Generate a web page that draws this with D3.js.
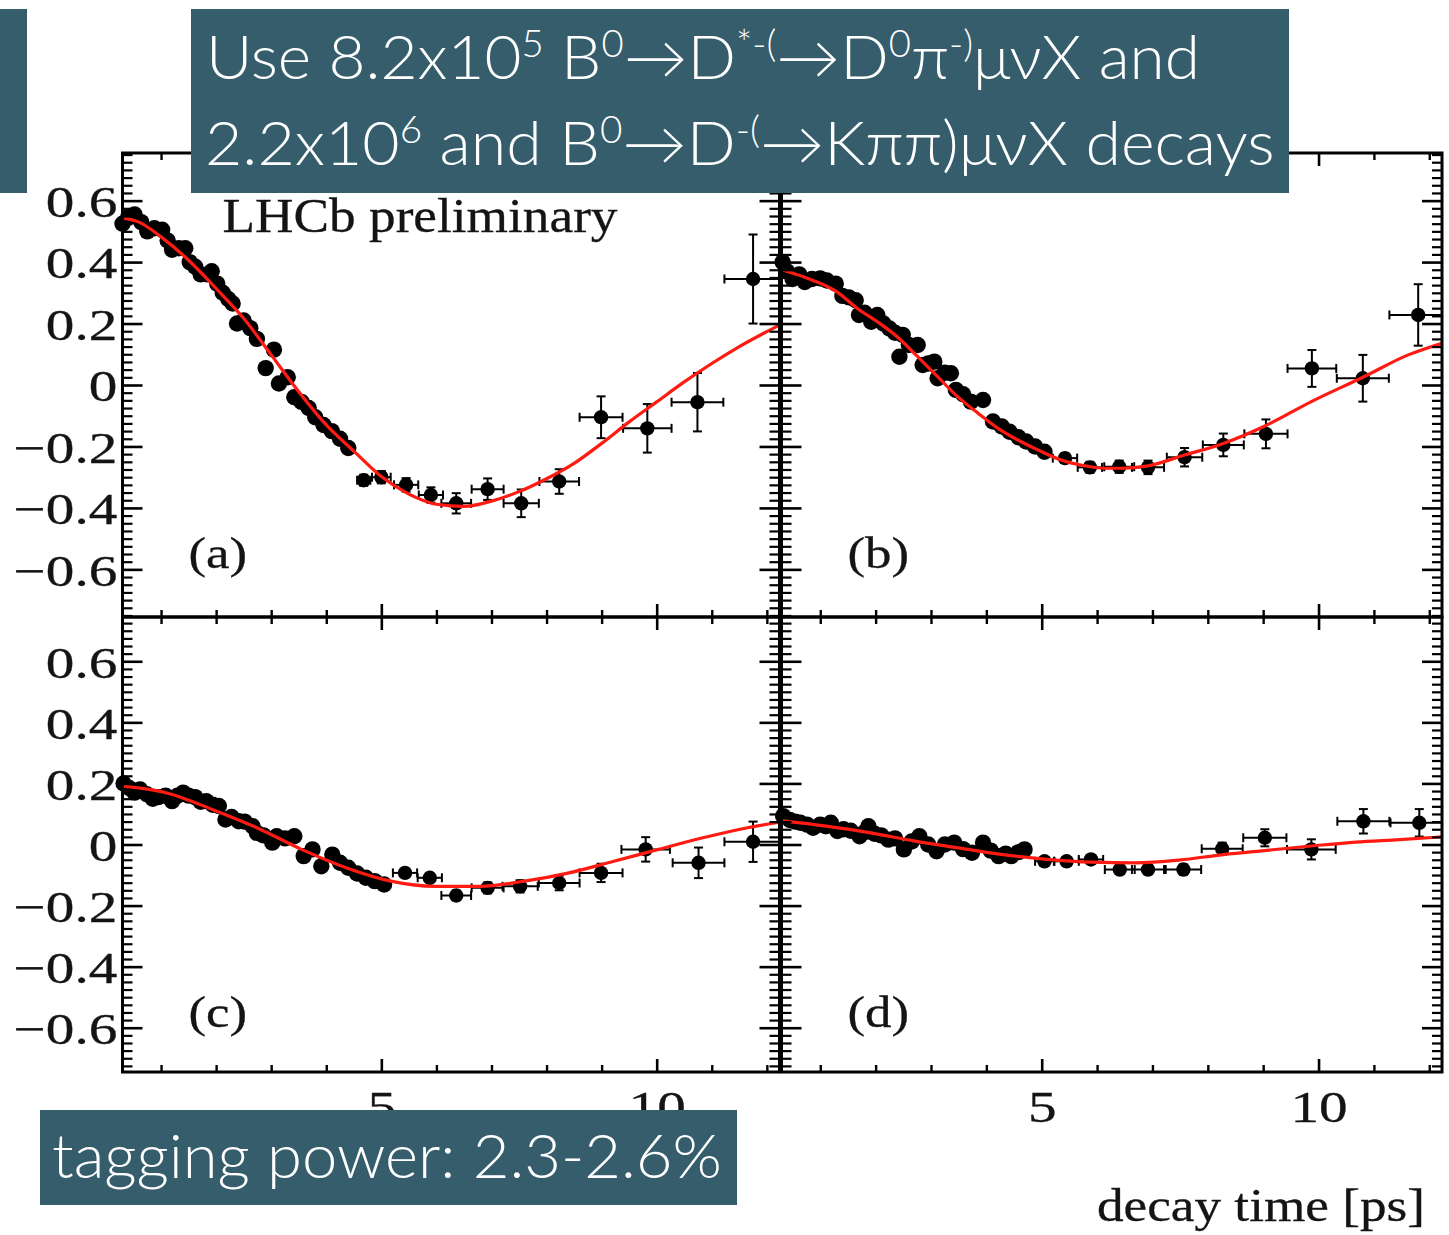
<!DOCTYPE html>
<html>
<head>
<meta charset="utf-8">
<script src="https://cdn.jsdelivr.net/npm/d3@7"></script>
<style>
  html, body { margin: 0; padding: 0; background: #fff; }
  svg { display: block; }
</style>
</head>
<body>
<script>
// ---- Measured asymmetry per decay-time bin, four tagging categories ----
// (a)
const tA = [0.30,0.40,0.52,0.64,0.75,0.88,1.02,1.12,1.20,1.32,1.44,1.52,1.62,1.72,1.84,1.92,2.02,2.12,2.22,2.30,2.38,2.50,2.62,2.74,2.90,3.05,3.14,3.30,3.42,3.55,3.68,3.80,3.95,4.10,4.25,4.40,4.68,5.00,5.45,5.90,6.36,6.93,7.54,8.23,8.99,9.83,10.74,11.75];
const vA = [0.525,0.545,0.555,0.530,0.500,0.510,0.505,0.470,0.440,0.445,0.445,0.400,0.385,0.360,0.360,0.370,0.330,0.300,0.280,0.265,0.200,0.210,0.185,0.150,0.055,0.115,0.005,0.025,-0.040,-0.055,-0.075,-0.105,-0.130,-0.150,-0.175,-0.205,-0.310,-0.300,-0.325,-0.358,-0.385,-0.339,-0.385,-0.314,-0.105,-0.141,-0.056,0.345];
// uncertainties of the wide late-time bins (aligned to the last entries)
const dtA = [0.12,0.17,0.22,0.22,0.27,0.29,0.32,0.36,0.39,0.44,0.47,0.52];
const dvA = [0.018,0.020,0.022,0.025,0.033,0.035,0.045,0.040,0.068,0.079,0.095,0.145];
const fitTA = [0.3,0.6,1.0,1.5,2.0,2.5,3.0,3.5,4.0,4.5,5.0,5.5,6.0,6.5,7.0,7.5,8.0,8.5,9.0,9.5,10.0,10.5,11.0,11.5,12.23];
const fitVA = [0.544,0.530,0.482,0.406,0.314,0.217,0.098,-0.022,-0.130,-0.215,-0.298,-0.355,-0.388,-0.395,-0.378,-0.347,-0.305,-0.255,-0.190,-0.120,-0.055,0.010,0.070,0.125,0.195];

// (b)
const tB = [0.32,0.40,0.50,0.62,0.72,0.85,1.00,1.12,1.28,1.40,1.52,1.64,1.70,1.80,1.92,2.03,2.14,2.25,2.35,2.43,2.49,2.60,2.76,2.85,2.95,3.06,3.12,3.25,3.36,3.45,3.58,3.72,3.94,4.12,4.28,4.42,4.58,4.72,4.88,5.05,5.42,5.87,6.40,6.92,7.58,8.28,9.05,9.88,10.80,11.80];
const vB = [0.400,0.370,0.345,0.360,0.335,0.345,0.347,0.340,0.330,0.290,0.285,0.276,0.228,0.235,0.206,0.228,0.200,0.184,0.170,0.092,0.163,0.130,0.130,0.065,0.070,0.076,0.022,0.040,0.038,-0.016,-0.030,-0.054,-0.049,-0.119,-0.135,-0.152,-0.170,-0.184,-0.200,-0.217,-0.238,-0.268,-0.266,-0.268,-0.235,-0.195,-0.159,0.054,0.022,0.228];
const dtB = [0.22,0.22,0.27,0.29,0.32,0.37,0.39,0.44,0.47,0.52];
const dvB = [0.015,0.018,0.020,0.022,0.030,0.037,0.047,0.060,0.076,0.100];
const fitTB = [0.3,0.7,1.0,1.3,1.67,2.03,2.39,2.76,3.12,3.48,3.85,4.21,4.57,4.93,5.35,5.78,6.14,6.44,6.92,7.58,8.28,9.07,9.87,10.82,11.62,12.23];
const fitVB = [0.375,0.352,0.331,0.303,0.249,0.206,0.157,0.092,0.027,-0.038,-0.092,-0.141,-0.179,-0.211,-0.244,-0.263,-0.271,-0.271,-0.263,-0.228,-0.190,-0.130,-0.054,0.027,0.098,0.136];

// (c)
const tC = [0.32,0.42,0.52,0.62,0.74,0.85,0.95,1.08,1.20,1.30,1.40,1.50,1.62,1.72,1.82,1.94,2.05,2.17,2.28,2.41,2.52,2.66,2.74,2.86,3.02,3.10,3.25,3.42,3.59,3.75,3.91,4.11,4.25,4.40,4.56,4.72,4.88,5.05,5.43,5.88,6.36,6.93,7.52,8.23,8.99,9.80,10.76,11.75];
const vC = [0.200,0.185,0.170,0.180,0.165,0.150,0.155,0.160,0.142,0.160,0.170,0.160,0.155,0.140,0.142,0.130,0.126,0.082,0.090,0.076,0.075,0.060,0.038,0.030,0.006,0.027,0.020,0.027,-0.038,-0.016,-0.071,-0.033,-0.060,-0.076,-0.095,-0.109,-0.120,-0.131,-0.093,-0.109,-0.167,-0.142,-0.137,-0.126,-0.093,-0.016,-0.060,0.009];
const dtC = [0.22,0.22,0.27,0.29,0.32,0.37,0.39,0.44,0.47,0.52];
const dvC = [0.012,0.014,0.016,0.018,0.020,0.024,0.030,0.040,0.050,0.066];
const fitTC = [0.3,0.6,1.12,1.93,2.74,3.55,4.36,5.17,5.98,6.79,7.6,8.41,9.22,10.03,10.84,11.65,12.23];
const fitVC = [0.192,0.185,0.168,0.115,0.055,-0.016,-0.076,-0.120,-0.137,-0.137,-0.120,-0.093,-0.055,-0.016,0.022,0.055,0.073];

// (d)
const tD = [0.33,0.45,0.55,0.64,0.76,0.87,1.00,1.10,1.19,1.31,1.42,1.55,1.71,1.80,1.87,1.98,2.10,2.23,2.35,2.51,2.65,2.79,2.95,3.10,3.25,3.42,3.58,3.74,3.94,4.08,4.22,4.35,4.45,4.58,4.69,5.05,5.45,5.89,6.41,6.92,7.56,8.26,9.03,9.87,10.81,11.82];
const vD = [0.093,0.080,0.075,0.071,0.065,0.055,0.065,0.060,0.071,0.044,0.050,0.045,0.027,0.040,0.060,0.035,0.030,0.016,0.020,-0.016,0.010,0.027,0.000,-0.022,0.000,0.006,-0.015,-0.027,0.006,-0.020,-0.038,-0.030,-0.038,-0.025,-0.016,-0.055,-0.055,-0.049,-0.082,-0.082,-0.082,-0.014,0.022,-0.016,0.076,0.071];
const dtD = [0.17,0.22,0.22,0.27,0.29,0.32,0.37,0.39,0.44,0.47,0.52];
const dvD = [0.009,0.010,0.012,0.013,0.015,0.017,0.020,0.028,0.033,0.040,0.045];
const fitTD = [0.3,1.11,1.91,2.71,3.5,4.3,5.09,5.89,6.69,7.48,8.28,9.07,9.87,10.67,11.46,12.23];
const fitVD = [0.078,0.060,0.038,0.011,-0.011,-0.033,-0.049,-0.058,-0.060,-0.051,-0.033,-0.019,-0.005,0.008,0.016,0.025];

// ---- Axis ticks and texts ----
const yTickLabels = [-0.6, -0.4, -0.2, 0, 0.2, 0.4, 0.6];
const xTickLabels = [5, 10];
const xMinorTicks = [1, 2, 3, 4, 6, 7, 8, 9, 11, 12];
const panelLabels = ["(a)", "(b)", "(c)", "(d)"];
const xTitle = "decay time [ps]";
const experimentTag = "LHCb preliminary";
const headerLine1 = [["Use 8.2x10"], ["5", 1], [" B"], ["0", 1], ["\u2192D"], ["*-(", 1], ["\u2192D"], ["0", 1], ["\u03c0"], ["-)", 1], ["\u03bc\u03bdX and"]];
const headerLine2 = [["2.2x10"], ["6", 1], [" and B"], ["0", 1], ["\u2192D"], ["-(", 1], ["\u2192K\u03c0\u03c0)\u03bc\u03bdX decays"]];
const footerText = "tagging power: 2.3-2.6%";

// ---- Layout ----
const W = 1449, H = 1235;
const tDomain = [0.3, 12.23];
const cols = [{ x0: 122.5, x1: 779.5 }, { x0: 781.5, x1: 1442 }];
const rows = [{ y0: 153, y1: 617, dom: [-0.755, 0.755] }, { y0: 617, y1: 1072, dom: [-0.745, 0.745] }];
const BOX = "#355d6c";
const INK = "#141414";
const SERIF = "'Times New Roman', 'Liberation Serif', Times, serif";
const SANS = "Lato, 'Open Sans', 'DejaVu Sans', sans-serif";

const svg = d3.select("body").append("svg").attr("width", W).attr("height", H);
svg.append("rect").attr("width", W).attr("height", H).attr("fill", "#fff");
const defs = svg.append("defs");

const panels = [
  { t: tA, v: vA, dt: dtA, dv: dvA, ft: fitTA, fv: fitVA, c: 0, r: 0 },
  { t: tB, v: vB, dt: dtB, dv: dvB, ft: fitTB, fv: fitVB, c: 1, r: 0 },
  { t: tC, v: vC, dt: dtC, dv: dvC, ft: fitTC, fv: fitVC, c: 0, r: 1 },
  { t: tD, v: vD, dt: dtD, dv: dvD, ft: fitTD, fv: fitVD, c: 1, r: 1 }
];

const fmtY = d => d === 0 ? "0" : (d < 0 ? "\u2212" : "") + Math.abs(d).toFixed(1);
const noLabel = () => "";

function serifText(sel, size) {
  return sel.attr("font-family", SERIF).attr("font-size", size).attr("fill", INK)
    .attr("stroke", INK).attr("stroke-width", 0.3);
}

function styleAxis(sel, width) {
  sel.select(".domain").remove();
  sel.selectAll(".tick line").attr("stroke", "#000").attr("stroke-width", width);
  serifText(sel.selectAll(".tick text"), 44).attr("transform", "scale(1.3,1)");
}

panels.forEach((p, i) => {
  const C = cols[p.c], R = rows[p.r];
  const x = d3.scaleLinear().domain(tDomain).range([C.x0, C.x1]);
  const y = d3.scaleLinear().domain(R.dom).range([R.y1, R.y0]);
  const g = svg.append("g").attr("class", "panel");

  const clipId = "panel-clip-" + i;
  defs.append("clipPath").attr("id", clipId).append("rect")
    .attr("x", C.x0).attr("y", R.y0).attr("width", C.x1 - C.x0).attr("height", R.y1 - R.y0);

  // error bars of the wide bins
  const off = p.t.length - p.dt.length;
  const bars = g.append("g").attr("clip-path", `url(#${clipId})`)
    .attr("stroke", "#000").attr("stroke-width", 2).attr("fill", "none");
  p.dt.forEach((dt, k) => {
    const t = p.t[off + k], v = p.v[off + k], dv = p.dv[k];
    const cx = x(t), cy = y(v);
    const xl = x(t - dt), xr = x(t + dt), yt = y(v + dv), yb = y(v - dv);
    const segs = [
      [xl, cy, xr, cy], [cx, yt, cx, yb],
      [xl, cy - 4.5, xl, cy + 4.5], [xr, cy - 4.5, xr, cy + 4.5],
      [cx - 4.5, yt, cx + 4.5, yt], [cx - 4.5, yb, cx + 4.5, yb]
    ];
    segs.forEach(s => bars.append("line").attr("x1", s[0]).attr("y1", s[1]).attr("x2", s[2]).attr("y2", s[3]));
  });

  // data points
  g.append("g").selectAll("circle").data(d3.range(p.t.length)).join("circle")
    .attr("cx", k => x(p.t[k])).attr("cy", k => y(p.v[k]))
    .attr("r", k => k >= off ? 7.2 : 8.2).attr("fill", "#000");

  // fitted projection
  const fit = d3.range(p.ft.length).map(k => [p.ft[k], p.fv[k]]);
  g.append("path").datum(fit).attr("clip-path", `url(#${clipId})`)
    .attr("d", d3.line().x(d => x(d[0])).y(d => y(d[1])).curve(d3.curveMonotoneX))
    .attr("fill", "none").attr("stroke", "#ff1a12").attr("stroke-width", 3.2);

  // ticks on all four sides, pointing inwards
  const yMinor = d3.range(-30, 31).map(k => +(k * 0.025).toFixed(3))
    .filter(v => v > R.dom[0] && v < R.dom[1] && Math.abs(v * 5 - Math.round(v * 5)) > 1e-6);

  const ax = g.append("g");
  ax.append("g").attr("transform", `translate(${C.x0},0)`)
    .call(d3.axisLeft(y).tickValues(yMinor).tickSizeInner(-10).tickSizeOuter(0).tickFormat(noLabel))
    .call(s => styleAxis(s, 2.2));
  ax.append("g").attr("transform", `translate(${C.x0},0)`)
    .call(d3.axisLeft(y).tickValues(yTickLabels).tickSizeInner(-20).tickSizeOuter(0).tickPadding(4)
      .tickFormat(p.c === 0 ? fmtY : noLabel))
    .call(s => styleAxis(s, 2.6))
    .call(s => s.selectAll(".tick text").attr("dy", "0.36em"));
  ax.append("g").attr("transform", `translate(${C.x1},0)`)
    .call(d3.axisRight(y).tickValues(yMinor).tickSizeInner(-10).tickSizeOuter(0).tickFormat(noLabel))
    .call(s => styleAxis(s, 2.2));
  ax.append("g").attr("transform", `translate(${C.x1},0)`)
    .call(d3.axisRight(y).tickValues(yTickLabels).tickSizeInner(-20).tickSizeOuter(0).tickFormat(noLabel))
    .call(s => styleAxis(s, 2.6));

  ax.append("g").attr("transform", `translate(0,${R.y0})`)
    .call(d3.axisTop(x).tickValues(xMinorTicks).tickSizeInner(-7).tickSizeOuter(0).tickFormat(noLabel))
    .call(s => styleAxis(s, 2.4));
  ax.append("g").attr("transform", `translate(0,${R.y0})`)
    .call(d3.axisTop(x).tickValues(xTickLabels).tickSizeInner(-13).tickSizeOuter(0).tickFormat(noLabel))
    .call(s => styleAxis(s, 2.6));
  ax.append("g").attr("transform", `translate(0,${R.y1})`)
    .call(d3.axisBottom(x).tickValues(xMinorTicks).tickSizeInner(-7).tickSizeOuter(0).tickFormat(noLabel))
    .call(s => styleAxis(s, 2.4));
  ax.append("g").attr("transform", `translate(0,${R.y1})`)
    .call(d3.axisBottom(x).tickValues(xTickLabels).tickSizeInner(-13).tickSizeOuter(0).tickPadding(19)
      .tickFormat(p.r === 1 ? d3.format("d") : noLabel))
    .call(s => styleAxis(s, 2.6));

  // frame
  g.append("rect").attr("x", C.x0).attr("y", R.y0)
    .attr("width", C.x1 - C.x0).attr("height", R.y1 - R.y0)
    .attr("fill", "none").attr("stroke", "#000").attr("stroke-width", 3);

  // category label
  serifText(g.append("text"), 44)
    .attr("transform", `translate(${C.x0 + 66},${y(-0.6) - 1}) scale(1.2,1)`)
    .text(panelLabels[i]);

  if (i === 0) {
    serifText(g.append("text"), 48)
      .attr("x", C.x0 + 100).attr("y", 232)
      .attr("textLength", 395).attr("lengthAdjust", "spacingAndGlyphs")
      .text(experimentTag);
  }
});

// axis title
serifText(svg.append("text"), 46)
  .attr("x", 1097).attr("y", 1221)
  .attr("textLength", 328).attr("lengthAdjust", "spacingAndGlyphs")
  .text(xTitle);

// ---- Overlaid caption boxes ----
function richText(parent, x, y, segs, size, width) {
  const t = parent.append("text").attr("x", x).attr("y", y)
    .attr("font-family", SANS).attr("font-size", size).attr("font-weight", 300)
    .attr("fill", "#fff");
  const lift = size * 0.36;
  let raised = false;
  segs.forEach(s => {
    const sup = s[1] === 1;
    const sp = t.append("tspan").text(s[0]);
    if (sup && !raised) { sp.attr("dy", -lift); raised = true; }
    else if (!sup && raised) { sp.attr("dy", lift); raised = false; }
    if (sup) sp.attr("font-size", size * 0.6);
  });
  const w = t.node().getComputedTextLength();
  if (width && w > 0) {
    t.attr("transform", `translate(${x},0) scale(${width / w},1) translate(${-x},0)`);
  }
  return t;
}

svg.append("rect").attr("x", 0).attr("y", 9).attr("width", 27).attr("height", 184).attr("fill", BOX);
svg.append("rect").attr("x", 191).attr("y", 9).attr("width", 1098).attr("height", 184).attr("fill", BOX);
richText(svg, 206, 79, headerLine1, 61, 994);
richText(svg, 205, 165, headerLine2, 61, 1070);

svg.append("rect").attr("x", 40).attr("y", 1110).attr("width", 697).attr("height", 95).attr("fill", BOX);
richText(svg, 52, 1178, [[footerText]], 62, 670);
</script>
</body>
</html>
